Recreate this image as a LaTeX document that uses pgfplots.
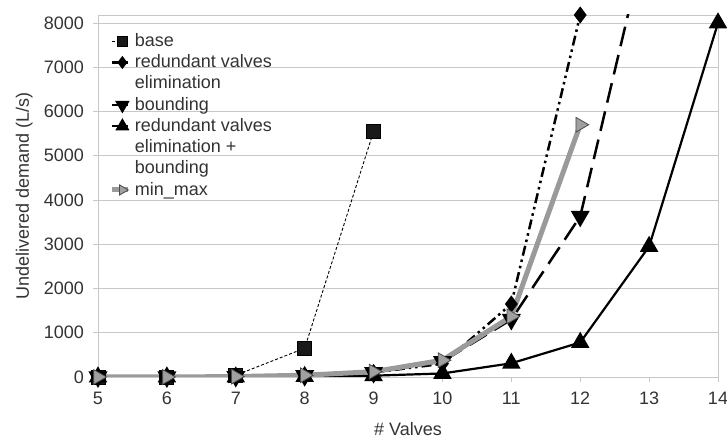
\documentclass[border=0pt]{standalone}
\usepackage{pgfplots}
\pgfplotsset{compat=1.18}
\usepackage{fontspec}
\setmainfont{Liberation Sans}
\definecolor{txt}{HTML}{333333}
\definecolor{gridc}{HTML}{C8C8C8}
\definecolor{mmline}{HTML}{9A9A9A}
\definecolor{mmfill}{HTML}{A0A0A0}
\begin{document}
\fontsize{18}{20}\selectfont
\begin{tikzpicture}
\useasboundingbox (-98pt,-61pt) rectangle (629pt,377pt);
\begin{axis}[
  at={(0pt,0pt)}, anchor=south west,
  scale only axis,
  width=620pt, height=362pt,
  xmin=5, xmax=14, ymin=0, ymax=8180,
  xtick={5,6,...,14},
  ytick={0,1000,...,8000},
  ymajorgrids,
  grid style={gridc, line width=0.8pt},
  axis line style={gridc, line width=0.8pt},
  tick style={gridc, line width=0.8pt},
  tick align=outside,
  major tick length=5pt,
  xtick pos=bottom, ytick pos=left,
  /pgf/number format/assume math mode=true,
  /pgf/number format/set thousands separator={},
  ticklabel style={font=\fontsize{18}{20}\selectfont, text=txt},
  yticklabel style={xshift=-3pt},
  xticklabel style={yshift=-4pt},
  label style={font=\fontsize{18}{20}\selectfont, text=txt},
  xlabel={\# Valves},
  ylabel={Undelivered demand (L/s)},
  xlabel style={yshift=-5pt},
  ylabel style={yshift=-1pt},
  legend style={at={(0.014,0.958)}, anchor=north west, draw=none, fill=none,
    font=\fontsize{18}{20}\selectfont, text=txt, row sep=3.5pt, column sep=3pt,
    nodes={inner sep=1pt}},
  legend cell align=left,
  legend image code/.code={\draw[mark repeat=2,mark phase=2,every mark/.append style={scale=0.7}] plot coordinates {(0pt,0pt)(10pt,0pt)(16pt,0pt)};},
]
\addplot[black, line width=0.9pt, dash pattern=on 3pt off 2pt,
  mark=square*, mark size=7pt, mark options={solid, fill=black!90}]
  coordinates {(5,0)(6,0)(7,40)(8,650)(9,5550)};
\addlegendentry{base}
\addplot[black, line width=2.5pt, dash pattern=on 10pt off 4pt on 2.5pt off 4pt on 2.5pt off 4pt,
  mark=diamond*, mark size=6.5pt, mark options={solid, fill=black}]
  coordinates {(5,0)(6,0)(7,10)(8,30)(9,100)(10,300)(11,1650)(12,8180)};
\addlegendentry{redundant valves}
\addlegendimage{empty legend}
\addlegendentry{elimination}
\addplot[black, line width=2.5pt, dash pattern=on 20pt off 9pt,
  mark=triangle*, mark size=8.5pt, mark options={solid, fill=black, rotate=180}]
  coordinates {(5,0)(6,0)(7,10)(8,30)(9,100)(10,350)(11,1300)(12,3630)(13,10200)};
\addlegendentry{bounding}
\addplot[black, line width=2.2pt,
  mark=triangle*, mark size=8.5pt, mark options={solid, fill=black}]
  coordinates {(5,0)(6,0)(7,0)(8,10)(9,30)(10,80)(11,310)(12,780)(13,2950)(14,8000)};
\addlegendentry{redundant valves}
\addlegendimage{empty legend}
\addlegendentry{elimination +}
\addlegendimage{empty legend}
\addlegendentry{bounding}
\addplot[mmline, line width=5pt,
  mark=triangle*, mark size=8.5pt, mark options={solid, fill=mmfill, draw=black!70, line width=0.8pt, rotate=-90}]
  coordinates {(5,0)(6,0)(7,10)(8,40)(9,120)(10,380)(11,1370)(12,5700)};
\addlegendentry{min\_max}
\end{axis}
\end{tikzpicture}
\end{document}
